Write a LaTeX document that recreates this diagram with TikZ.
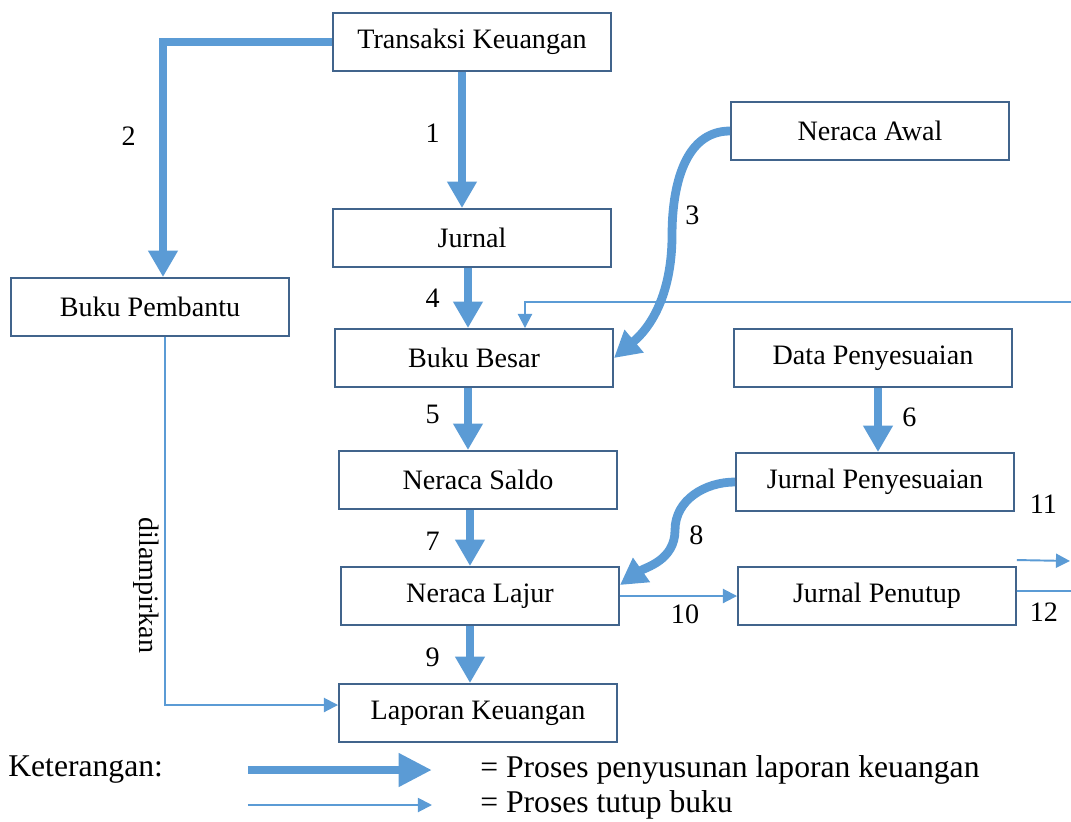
\documentclass[tikz,border=0pt]{standalone}
\usepackage{fontspec}
\setmainfont{Liberation Serif}
\usepackage{tikz}
\usetikzlibrary{arrows.meta}
\usetikzlibrary{positioning}
\definecolor{boxblue}{RGB}{65,100,140}
\definecolor{flowblue}{RGB}{91,155,213}
\tikzset{
    stage/.style={
           rectangle,
           draw=boxblue, line width=1.1pt,
           minimum width=5.56cm,
           minimum height=1.16cm,
           inner sep=2pt,
           text centered,
           text=black,
           font=\fontsize{16}{19}\selectfont
           },
    mainflow/.style={
           draw=flowblue, line width=5pt,
           -{Triangle[width=16pt,length=15pt]}
           },
    closeflow/.style={
           draw=flowblue, line width=1.1pt,
           -{Triangle[width=8pt,length=8pt]}
           },
    steplabel/.style={
           font=\fontsize{16}{19}\selectfont,
           inner sep=0pt
           },
    legendtext/.style={
           font=\fontsize{18}{21}\selectfont,
           inner sep=0pt,
           anchor=west
           },
}

\begin{document}
\begin{tikzpicture}
\useasboundingbox (-9.44,0.84) rectangle (11.98,-15.58);

% Stage: main column
\node[stage] (TRANSAKSI) {Transaksi Keuangan};
\node[stage, below of=TRANSAKSI, node distance=3.92cm] (JURNAL) {Jurnal};
\node[stage, below of=JURNAL, node distance=2.4cm, xshift=0.04cm] (BUKUBESAR) {Buku Besar};
\node[stage, below of=BUKUBESAR, node distance=2.44cm, xshift=0.08cm] (NERACASALDO) {Neraca Saldo};
\node[stage, below of=NERACASALDO, node distance=2.32cm, xshift=0.04cm] (NERACALAJUR) {Neraca Lajur};
\node[stage, below of=NERACALAJUR, node distance=2.34cm, xshift=-0.04cm] (LAPORAN) {Laporan Keuangan};

% Stage: left side
\node[stage, left of=JURNAL, node distance=6.44cm, yshift=-1.38cm] (BUKUPEMBANTU) {Buku Pembantu};

% Stage: right side
\node[stage, right of=TRANSAKSI, node distance=7.96cm, yshift=-1.78cm] (NERACAAWAL) {Neraca Awal};
\node[stage, right of=BUKUBESAR, node distance=7.98cm] (DATAPENYESUAIAN) {Data Penyesuaian};
\node[stage, right of=NERACASALDO, node distance=7.94cm, yshift=-0.04cm] (JURNALPENYESUAIAN) {Jurnal Penyesuaian};
\node[stage, right of=NERACALAJUR, node distance=7.94cm] (JURNALPENUTUP) {Jurnal Penutup};

% free ends at the right border
\coordinate (KEMBALI) at (11.98,-5.2);
\coordinate (KELUAR11) at (11.96,-10.38);
\coordinate (KELUAR12) at (11.98,-10.98);

% start points of the straight arrows
\coordinate (S1) at ([xshift=-0.2cm]TRANSAKSI.south);
\coordinate (S4) at ([xshift=-0.08cm]JURNAL.south);
\coordinate (S5) at ([xshift=-0.12cm]BUKUBESAR.south);
\coordinate (S7) at ([xshift=-0.16cm]NERACASALDO.south);
\coordinate (S9) at ([xshift=-0.2cm]NERACALAJUR.south);
\coordinate (S6) at ([xshift=0.1cm]DATAPENYESUAIAN.south);

% thick arrows
\path (S1) edge[mainflow] node[steplabel, left=0.36cm, yshift=0.14cm]{1} (S1 |- JURNAL.north)
(S4) edge[mainflow] node[steplabel, left=0.48cm]{4} (S4 |- BUKUBESAR.north)
(S5) edge[mainflow] node[steplabel, left=0.48cm, yshift=0.1cm]{5} (S5 |- NERACASALDO.north)
(S7) edge[mainflow] node[steplabel, left=0.52cm, yshift=-0.06cm]{7} (S7 |- NERACALAJUR.north)
(S9) edge[mainflow] node[steplabel, left=0.52cm, yshift=-0.05cm]{9} (S9 |- LAPORAN.north)
(S6) edge[mainflow] node[steplabel, right=0.4cm, yshift=0.05cm]{6} (S6 |- JURNALPENYESUAIAN.north)
;

\draw[mainflow] (TRANSAKSI.west) -| node[steplabel, pos=0.7, left=0.46cm]{2} ([xshift=0.26cm]BUKUPEMBANTU.north);

\draw[mainflow] (NERACAAWAL.west) to[out=180,in=90] ++(-1.16cm,-2.08cm)
  node[steplabel, anchor=west, xshift=0.18cm, yshift=0.4cm]{3}
  to[out=-90,in=40] (BUKUBESAR.east);

\draw[mainflow] (JURNALPENYESUAIAN.west) to[out=180,in=90] ++(-1.2cm,-0.96cm)
  node[steplabel, anchor=west, xshift=0.2cm, yshift=-0.1cm]{8}
  to[out=-90,in=35] ([yshift=0.22cm]NERACALAJUR.east);

% thin arrows
\path (NERACALAJUR.east) edge[closeflow] node[steplabel, below=0.16cm, xshift=0.13cm]{10} (JURNALPENUTUP.west);
\draw[closeflow] ([yshift=0.12cm]JURNALPENUTUP.north east) -- node[steplabel, above=0.92cm]{11} (KELUAR11);
\draw[closeflow, -] ([yshift=0.1cm]JURNALPENUTUP.east) -- node[steplabel, below=0.22cm]{12} (KELUAR12);
\draw[closeflow] (KEMBALI) -| ([xshift=1.02cm]BUKUBESAR.north);
\draw[closeflow] ([xshift=0.3cm]BUKUPEMBANTU.south) |- node[steplabel, pos=0.3375, rotate=-90, anchor=north, inner sep=3pt]{dilampirkan} ([yshift=0.16cm]LAPORAN.west);

% legend
\node[legendtext] (KETERANGAN) at (-9.28,-14.56) {Keterangan:};
\coordinate (LEGTEBAL1) at (-4.48,-14.56);
\coordinate (LEGTEBAL2) at (-0.8,-14.56);
\coordinate (LEGTIPIS1) at (-4.48,-15.26);
\coordinate (LEGTIPIS2) at (-0.8,-15.26);
\draw[mainflow, -{Triangle[width=18pt,length=19pt]}] (LEGTEBAL1) -- (LEGTEBAL2);
\draw[closeflow] (LEGTIPIS1) -- (LEGTIPIS2);
\node[legendtext] (KETTEBAL) at (0.16,-14.56) {= Proses penyusunan laporan keuangan};
\node[legendtext] (KETTIPIS) at (0.16,-15.26) {= Proses tutup buku};

\end{tikzpicture}
\end{document}
